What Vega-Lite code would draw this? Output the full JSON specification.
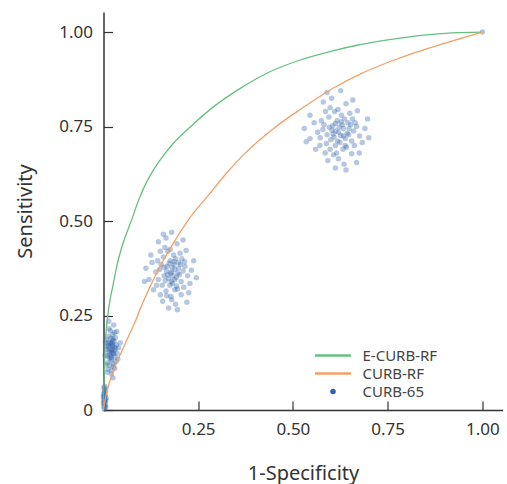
{
  "$schema": "https://vega.github.io/schema/vega-lite/v6.json",
  "width": 399,
  "height": 398,
  "autosize": "none",
  "padding": {"left": 103.5, "top": 12, "right": 4.5, "bottom": 74},
  "background": "white",
  "config": {
    "view": {"stroke": null},
    "font": "Noto Sans",
    "axis": {
      "grid": false,
      "domainColor": "#333333",
      "domainWidth": 1.5,
      "tickColor": "#333333",
      "tickWidth": 1.2,
      "tickSize": -9,
      "labelPadding": 20,
      "labelFontSize": 17,
      "labelColor": "#333333",
      "titleFontSize": 20,
      "titleFontWeight": "normal",
      "titleColor": "#333333"
    }
  },
  "datasets": {
    "curves": [
      {"model": "E-CURB-RF", "fpr": 0, "tpr": 0},
      {"model": "E-CURB-RF", "fpr": 0.001, "tpr": 0.06},
      {"model": "E-CURB-RF", "fpr": 0.003, "tpr": 0.13},
      {"model": "E-CURB-RF", "fpr": 0.005, "tpr": 0.18},
      {"model": "E-CURB-RF", "fpr": 0.008, "tpr": 0.22},
      {"model": "E-CURB-RF", "fpr": 0.012, "tpr": 0.255},
      {"model": "E-CURB-RF", "fpr": 0.017, "tpr": 0.29},
      {"model": "E-CURB-RF", "fpr": 0.025, "tpr": 0.33},
      {"model": "E-CURB-RF", "fpr": 0.035, "tpr": 0.38},
      {"model": "E-CURB-RF", "fpr": 0.048, "tpr": 0.43},
      {"model": "E-CURB-RF", "fpr": 0.06, "tpr": 0.465},
      {"model": "E-CURB-RF", "fpr": 0.075, "tpr": 0.505},
      {"model": "E-CURB-RF", "fpr": 0.09, "tpr": 0.548},
      {"model": "E-CURB-RF", "fpr": 0.105, "tpr": 0.585},
      {"model": "E-CURB-RF", "fpr": 0.13, "tpr": 0.632},
      {"model": "E-CURB-RF", "fpr": 0.158, "tpr": 0.673},
      {"model": "E-CURB-RF", "fpr": 0.184, "tpr": 0.705},
      {"model": "E-CURB-RF", "fpr": 0.229, "tpr": 0.749},
      {"model": "E-CURB-RF", "fpr": 0.29, "tpr": 0.802},
      {"model": "E-CURB-RF", "fpr": 0.361, "tpr": 0.851},
      {"model": "E-CURB-RF", "fpr": 0.431, "tpr": 0.891},
      {"model": "E-CURB-RF", "fpr": 0.519, "tpr": 0.926},
      {"model": "E-CURB-RF", "fpr": 0.6, "tpr": 0.949},
      {"model": "E-CURB-RF", "fpr": 0.669, "tpr": 0.965},
      {"model": "E-CURB-RF", "fpr": 0.75, "tpr": 0.979},
      {"model": "E-CURB-RF", "fpr": 0.845, "tpr": 0.992},
      {"model": "E-CURB-RF", "fpr": 0.92, "tpr": 0.998},
      {"model": "E-CURB-RF", "fpr": 1, "tpr": 1},
      {"model": "CURB-RF", "fpr": 0, "tpr": 0},
      {"model": "CURB-RF", "fpr": 0.004, "tpr": 0.026},
      {"model": "CURB-RF", "fpr": 0.015, "tpr": 0.07},
      {"model": "CURB-RF", "fpr": 0.03, "tpr": 0.115},
      {"model": "CURB-RF", "fpr": 0.048, "tpr": 0.155},
      {"model": "CURB-RF", "fpr": 0.066, "tpr": 0.195},
      {"model": "CURB-RF", "fpr": 0.083, "tpr": 0.232},
      {"model": "CURB-RF", "fpr": 0.096, "tpr": 0.265},
      {"model": "CURB-RF", "fpr": 0.12, "tpr": 0.32},
      {"model": "CURB-RF", "fpr": 0.149, "tpr": 0.379},
      {"model": "CURB-RF", "fpr": 0.184, "tpr": 0.441},
      {"model": "CURB-RF", "fpr": 0.224, "tpr": 0.503},
      {"model": "CURB-RF", "fpr": 0.281, "tpr": 0.573},
      {"model": "CURB-RF", "fpr": 0.325, "tpr": 0.627},
      {"model": "CURB-RF", "fpr": 0.369, "tpr": 0.675},
      {"model": "CURB-RF", "fpr": 0.449, "tpr": 0.745},
      {"model": "CURB-RF", "fpr": 0.519, "tpr": 0.795},
      {"model": "CURB-RF", "fpr": 0.607, "tpr": 0.852},
      {"model": "CURB-RF", "fpr": 0.68, "tpr": 0.89},
      {"model": "CURB-RF", "fpr": 0.757, "tpr": 0.922},
      {"model": "CURB-RF", "fpr": 0.82, "tpr": 0.945},
      {"model": "CURB-RF", "fpr": 0.889, "tpr": 0.967},
      {"model": "CURB-RF", "fpr": 0.95, "tpr": 0.985},
      {"model": "CURB-RF", "fpr": 1, "tpr": 1}
    ],
    "points": [
      {"model": "CURB-65", "fpr": 1, "tpr": 1},
      {"model": "CURB-65", "fpr": 0.620, "tpr": 0.735},
      {"model": "CURB-65", "fpr": 0.605, "tpr": 0.752},
      {"model": "CURB-65", "fpr": 0.638, "tpr": 0.718},
      {"model": "CURB-65", "fpr": 0.612, "tpr": 0.700},
      {"model": "CURB-65", "fpr": 0.645, "tpr": 0.760},
      {"model": "CURB-65", "fpr": 0.590, "tpr": 0.728},
      {"model": "CURB-65", "fpr": 0.628, "tpr": 0.780},
      {"model": "CURB-65", "fpr": 0.655, "tpr": 0.712},
      {"model": "CURB-65", "fpr": 0.598, "tpr": 0.690},
      {"model": "CURB-65", "fpr": 0.633, "tpr": 0.745},
      {"model": "CURB-65", "fpr": 0.617, "tpr": 0.765},
      {"model": "CURB-65", "fpr": 0.582, "tpr": 0.755},
      {"model": "CURB-65", "fpr": 0.660, "tpr": 0.738},
      {"model": "CURB-65", "fpr": 0.641, "tpr": 0.695},
      {"model": "CURB-65", "fpr": 0.608, "tpr": 0.722},
      {"model": "CURB-65", "fpr": 0.624, "tpr": 0.708},
      {"model": "CURB-65", "fpr": 0.595, "tpr": 0.775},
      {"model": "CURB-65", "fpr": 0.650, "tpr": 0.785},
      {"model": "CURB-65", "fpr": 0.572, "tpr": 0.720},
      {"model": "CURB-65", "fpr": 0.615, "tpr": 0.680},
      {"model": "CURB-65", "fpr": 0.668, "tpr": 0.750},
      {"model": "CURB-65", "fpr": 0.603, "tpr": 0.740},
      {"model": "CURB-65", "fpr": 0.636, "tpr": 0.770},
      {"model": "CURB-65", "fpr": 0.588, "tpr": 0.705},
      {"model": "CURB-65", "fpr": 0.626, "tpr": 0.726},
      {"model": "CURB-65", "fpr": 0.612, "tpr": 0.758},
      {"model": "CURB-65", "fpr": 0.647, "tpr": 0.728},
      {"model": "CURB-65", "fpr": 0.579, "tpr": 0.742},
      {"model": "CURB-65", "fpr": 0.632, "tpr": 0.690},
      {"model": "CURB-65", "fpr": 0.657, "tpr": 0.770},
      {"model": "CURB-65", "fpr": 0.598, "tpr": 0.800},
      {"model": "CURB-65", "fpr": 0.620, "tpr": 0.665},
      {"model": "CURB-65", "fpr": 0.676, "tpr": 0.725},
      {"model": "CURB-65", "fpr": 0.565, "tpr": 0.735},
      {"model": "CURB-65", "fpr": 0.640, "tpr": 0.810},
      {"model": "CURB-65", "fpr": 0.585, "tpr": 0.680},
      {"model": "CURB-65", "fpr": 0.610, "tpr": 0.790},
      {"model": "CURB-65", "fpr": 0.662, "tpr": 0.700},
      {"model": "CURB-65", "fpr": 0.630, "tpr": 0.755},
      {"model": "CURB-65", "fpr": 0.600, "tpr": 0.715},
      {"model": "CURB-65", "fpr": 0.648, "tpr": 0.745},
      {"model": "CURB-65", "fpr": 0.575, "tpr": 0.765},
      {"model": "CURB-65", "fpr": 0.622, "tpr": 0.748},
      {"model": "CURB-65", "fpr": 0.690, "tpr": 0.745},
      {"model": "CURB-65", "fpr": 0.556, "tpr": 0.760},
      {"model": "CURB-65", "fpr": 0.635, "tpr": 0.650},
      {"model": "CURB-65", "fpr": 0.602, "tpr": 0.825},
      {"model": "CURB-65", "fpr": 0.670, "tpr": 0.792},
      {"model": "CURB-65", "fpr": 0.592, "tpr": 0.660},
      {"model": "CURB-65", "fpr": 0.655, "tpr": 0.678},
      {"model": "CURB-65", "fpr": 0.545, "tpr": 0.718},
      {"model": "CURB-65", "fpr": 0.683, "tpr": 0.708},
      {"model": "CURB-65", "fpr": 0.613, "tpr": 0.738},
      {"model": "CURB-65", "fpr": 0.627, "tpr": 0.762},
      {"model": "CURB-65", "fpr": 0.606, "tpr": 0.730},
      {"model": "CURB-65", "fpr": 0.643, "tpr": 0.732},
      {"model": "CURB-65", "fpr": 0.618, "tpr": 0.712},
      {"model": "CURB-65", "fpr": 0.596, "tpr": 0.748},
      {"model": "CURB-65", "fpr": 0.652, "tpr": 0.755},
      {"model": "CURB-65", "fpr": 0.633, "tpr": 0.725},
      {"model": "CURB-65", "fpr": 0.586, "tpr": 0.790},
      {"model": "CURB-65", "fpr": 0.664, "tpr": 0.760},
      {"model": "CURB-65", "fpr": 0.619, "tpr": 0.795},
      {"model": "CURB-65", "fpr": 0.607, "tpr": 0.675},
      {"model": "CURB-65", "fpr": 0.638, "tpr": 0.700},
      {"model": "CURB-65", "fpr": 0.571, "tpr": 0.700},
      {"model": "CURB-65", "fpr": 0.697, "tpr": 0.770},
      {"model": "CURB-65", "fpr": 0.530, "tpr": 0.745},
      {"model": "CURB-65", "fpr": 0.626, "tpr": 0.845},
      {"model": "CURB-65", "fpr": 0.580, "tpr": 0.815},
      {"model": "CURB-65", "fpr": 0.658, "tpr": 0.820},
      {"model": "CURB-65", "fpr": 0.612, "tpr": 0.640},
      {"model": "CURB-65", "fpr": 0.675, "tpr": 0.680},
      {"model": "CURB-65", "fpr": 0.560, "tpr": 0.690},
      {"model": "CURB-65", "fpr": 0.700, "tpr": 0.720},
      {"model": "CURB-65", "fpr": 0.545, "tpr": 0.780},
      {"model": "CURB-65", "fpr": 0.640, "tpr": 0.635},
      {"model": "CURB-65", "fpr": 0.590, "tpr": 0.840},
      {"model": "CURB-65", "fpr": 0.668, "tpr": 0.655},
      {"model": "CURB-65", "fpr": 0.535, "tpr": 0.710},
      {"model": "CURB-65", "fpr": 0.180, "tpr": 0.365},
      {"model": "CURB-65", "fpr": 0.168, "tpr": 0.380},
      {"model": "CURB-65", "fpr": 0.192, "tpr": 0.350},
      {"model": "CURB-65", "fpr": 0.175, "tpr": 0.330},
      {"model": "CURB-65", "fpr": 0.198, "tpr": 0.390},
      {"model": "CURB-65", "fpr": 0.160, "tpr": 0.355},
      {"model": "CURB-65", "fpr": 0.185, "tpr": 0.410},
      {"model": "CURB-65", "fpr": 0.205, "tpr": 0.340},
      {"model": "CURB-65", "fpr": 0.165, "tpr": 0.315},
      {"model": "CURB-65", "fpr": 0.188, "tpr": 0.372},
      {"model": "CURB-65", "fpr": 0.176, "tpr": 0.395},
      {"model": "CURB-65", "fpr": 0.152, "tpr": 0.385},
      {"model": "CURB-65", "fpr": 0.210, "tpr": 0.368},
      {"model": "CURB-65", "fpr": 0.195, "tpr": 0.320},
      {"model": "CURB-65", "fpr": 0.172, "tpr": 0.348},
      {"model": "CURB-65", "fpr": 0.182, "tpr": 0.335},
      {"model": "CURB-65", "fpr": 0.158, "tpr": 0.405},
      {"model": "CURB-65", "fpr": 0.202, "tpr": 0.415},
      {"model": "CURB-65", "fpr": 0.145, "tpr": 0.345},
      {"model": "CURB-65", "fpr": 0.178, "tpr": 0.300},
      {"model": "CURB-65", "fpr": 0.215, "tpr": 0.380},
      {"model": "CURB-65", "fpr": 0.166, "tpr": 0.368},
      {"model": "CURB-65", "fpr": 0.190, "tpr": 0.400},
      {"model": "CURB-65", "fpr": 0.155, "tpr": 0.330},
      {"model": "CURB-65", "fpr": 0.183, "tpr": 0.355},
      {"model": "CURB-65", "fpr": 0.173, "tpr": 0.388},
      {"model": "CURB-65", "fpr": 0.200, "tpr": 0.358},
      {"model": "CURB-65", "fpr": 0.148, "tpr": 0.372},
      {"model": "CURB-65", "fpr": 0.188, "tpr": 0.318},
      {"model": "CURB-65", "fpr": 0.207, "tpr": 0.400},
      {"model": "CURB-65", "fpr": 0.162, "tpr": 0.430},
      {"model": "CURB-65", "fpr": 0.180, "tpr": 0.292},
      {"model": "CURB-65", "fpr": 0.222, "tpr": 0.355},
      {"model": "CURB-65", "fpr": 0.138, "tpr": 0.365},
      {"model": "CURB-65", "fpr": 0.194, "tpr": 0.440},
      {"model": "CURB-65", "fpr": 0.150, "tpr": 0.305},
      {"model": "CURB-65", "fpr": 0.170, "tpr": 0.420},
      {"model": "CURB-65", "fpr": 0.212, "tpr": 0.325},
      {"model": "CURB-65", "fpr": 0.186, "tpr": 0.385},
      {"model": "CURB-65", "fpr": 0.163, "tpr": 0.342},
      {"model": "CURB-65", "fpr": 0.198, "tpr": 0.375},
      {"model": "CURB-65", "fpr": 0.143, "tpr": 0.395},
      {"model": "CURB-65", "fpr": 0.181, "tpr": 0.378},
      {"model": "CURB-65", "fpr": 0.232, "tpr": 0.370},
      {"model": "CURB-65", "fpr": 0.128, "tpr": 0.390},
      {"model": "CURB-65", "fpr": 0.190, "tpr": 0.280},
      {"model": "CURB-65", "fpr": 0.165, "tpr": 0.455},
      {"model": "CURB-65", "fpr": 0.218, "tpr": 0.422},
      {"model": "CURB-65", "fpr": 0.156, "tpr": 0.288},
      {"model": "CURB-65", "fpr": 0.205, "tpr": 0.305},
      {"model": "CURB-65", "fpr": 0.120, "tpr": 0.345},
      {"model": "CURB-65", "fpr": 0.228, "tpr": 0.335},
      {"model": "CURB-65", "fpr": 0.177, "tpr": 0.362},
      {"model": "CURB-65", "fpr": 0.186, "tpr": 0.392},
      {"model": "CURB-65", "fpr": 0.169, "tpr": 0.358},
      {"model": "CURB-65", "fpr": 0.196, "tpr": 0.362},
      {"model": "CURB-65", "fpr": 0.179, "tpr": 0.340},
      {"model": "CURB-65", "fpr": 0.160, "tpr": 0.378},
      {"model": "CURB-65", "fpr": 0.203, "tpr": 0.385},
      {"model": "CURB-65", "fpr": 0.188, "tpr": 0.345},
      {"model": "CURB-65", "fpr": 0.150, "tpr": 0.420},
      {"model": "CURB-65", "fpr": 0.214, "tpr": 0.392},
      {"model": "CURB-65", "fpr": 0.176, "tpr": 0.425},
      {"model": "CURB-65", "fpr": 0.167, "tpr": 0.302},
      {"model": "CURB-65", "fpr": 0.193, "tpr": 0.328},
      {"model": "CURB-65", "fpr": 0.140, "tpr": 0.330},
      {"model": "CURB-65", "fpr": 0.238, "tpr": 0.395},
      {"model": "CURB-65", "fpr": 0.112, "tpr": 0.375},
      {"model": "CURB-65", "fpr": 0.180, "tpr": 0.470},
      {"model": "CURB-65", "fpr": 0.145, "tpr": 0.445},
      {"model": "CURB-65", "fpr": 0.210, "tpr": 0.450},
      {"model": "CURB-65", "fpr": 0.172, "tpr": 0.270},
      {"model": "CURB-65", "fpr": 0.225, "tpr": 0.310},
      {"model": "CURB-65", "fpr": 0.132, "tpr": 0.318},
      {"model": "CURB-65", "fpr": 0.245, "tpr": 0.350},
      {"model": "CURB-65", "fpr": 0.125, "tpr": 0.410},
      {"model": "CURB-65", "fpr": 0.195, "tpr": 0.265},
      {"model": "CURB-65", "fpr": 0.158, "tpr": 0.465},
      {"model": "CURB-65", "fpr": 0.220, "tpr": 0.285},
      {"model": "CURB-65", "fpr": 0.108, "tpr": 0.340},
      {"model": "CURB-65", "fpr": 0.022, "tpr": 0.160},
      {"model": "CURB-65", "fpr": 0.018, "tpr": 0.175},
      {"model": "CURB-65", "fpr": 0.026, "tpr": 0.148},
      {"model": "CURB-65", "fpr": 0.020, "tpr": 0.130},
      {"model": "CURB-65", "fpr": 0.028, "tpr": 0.182},
      {"model": "CURB-65", "fpr": 0.014, "tpr": 0.155},
      {"model": "CURB-65", "fpr": 0.024, "tpr": 0.200},
      {"model": "CURB-65", "fpr": 0.030, "tpr": 0.140},
      {"model": "CURB-65", "fpr": 0.016, "tpr": 0.118},
      {"model": "CURB-65", "fpr": 0.023, "tpr": 0.168},
      {"model": "CURB-65", "fpr": 0.019, "tpr": 0.190},
      {"model": "CURB-65", "fpr": 0.012, "tpr": 0.178},
      {"model": "CURB-65", "fpr": 0.032, "tpr": 0.162},
      {"model": "CURB-65", "fpr": 0.027, "tpr": 0.122},
      {"model": "CURB-65", "fpr": 0.017, "tpr": 0.145},
      {"model": "CURB-65", "fpr": 0.021, "tpr": 0.135},
      {"model": "CURB-65", "fpr": 0.013, "tpr": 0.195},
      {"model": "CURB-65", "fpr": 0.029, "tpr": 0.205},
      {"model": "CURB-65", "fpr": 0.010, "tpr": 0.142},
      {"model": "CURB-65", "fpr": 0.022, "tpr": 0.105},
      {"model": "CURB-65", "fpr": 0.034, "tpr": 0.172},
      {"model": "CURB-65", "fpr": 0.015, "tpr": 0.165},
      {"model": "CURB-65", "fpr": 0.025, "tpr": 0.188},
      {"model": "CURB-65", "fpr": 0.011, "tpr": 0.125},
      {"model": "CURB-65", "fpr": 0.023, "tpr": 0.152},
      {"model": "CURB-65", "fpr": 0.019, "tpr": 0.178},
      {"model": "CURB-65", "fpr": 0.028, "tpr": 0.158},
      {"model": "CURB-65", "fpr": 0.009, "tpr": 0.168},
      {"model": "CURB-65", "fpr": 0.026, "tpr": 0.115},
      {"model": "CURB-65", "fpr": 0.031, "tpr": 0.192},
      {"model": "CURB-65", "fpr": 0.015, "tpr": 0.215},
      {"model": "CURB-65", "fpr": 0.021, "tpr": 0.095},
      {"model": "CURB-65", "fpr": 0.036, "tpr": 0.150},
      {"model": "CURB-65", "fpr": 0.007, "tpr": 0.160},
      {"model": "CURB-65", "fpr": 0.027, "tpr": 0.225},
      {"model": "CURB-65", "fpr": 0.012, "tpr": 0.108},
      {"model": "CURB-65", "fpr": 0.018, "tpr": 0.210},
      {"model": "CURB-65", "fpr": 0.033, "tpr": 0.128},
      {"model": "CURB-65", "fpr": 0.024, "tpr": 0.172},
      {"model": "CURB-65", "fpr": 0.016, "tpr": 0.138},
      {"model": "CURB-65", "fpr": 0.029, "tpr": 0.166},
      {"model": "CURB-65", "fpr": 0.008, "tpr": 0.185},
      {"model": "CURB-65", "fpr": 0.022, "tpr": 0.176},
      {"model": "CURB-65", "fpr": 0.040, "tpr": 0.165},
      {"model": "CURB-65", "fpr": 0.005, "tpr": 0.180},
      {"model": "CURB-65", "fpr": 0.025, "tpr": 0.085},
      {"model": "CURB-65", "fpr": 0.014, "tpr": 0.235},
      {"model": "CURB-65", "fpr": 0.035, "tpr": 0.208},
      {"model": "CURB-65", "fpr": 0.010, "tpr": 0.100},
      {"model": "CURB-65", "fpr": 0.030, "tpr": 0.110},
      {"model": "CURB-65", "fpr": 0.004, "tpr": 0.145},
      {"model": "CURB-65", "fpr": 0.038, "tpr": 0.135},
      {"model": "CURB-65", "fpr": 0.020, "tpr": 0.158},
      {"model": "CURB-65", "fpr": 0.024, "tpr": 0.183},
      {"model": "CURB-65", "fpr": 0.017, "tpr": 0.152},
      {"model": "CURB-65", "fpr": 0.027, "tpr": 0.150},
      {"model": "CURB-65", "fpr": 0.020, "tpr": 0.140},
      {"model": "CURB-65", "fpr": 0.013, "tpr": 0.170},
      {"model": "CURB-65", "fpr": 0.044, "tpr": 0.178},
      {"model": "CURB-65", "fpr": 0.006, "tpr": 0.120},
      {"model": "CURB-65", "fpr": 0.002, "tpr": 0.020},
      {"model": "CURB-65", "fpr": 0.003, "tpr": 0.035},
      {"model": "CURB-65", "fpr": 0.001, "tpr": 0.010},
      {"model": "CURB-65", "fpr": 0.004, "tpr": 0.028},
      {"model": "CURB-65", "fpr": 0.002, "tpr": 0.045},
      {"model": "CURB-65", "fpr": 0.005, "tpr": 0.015},
      {"model": "CURB-65", "fpr": 0.001, "tpr": 0.030},
      {"model": "CURB-65", "fpr": 0.003, "tpr": 0.055},
      {"model": "CURB-65", "fpr": 0.004, "tpr": 0.005},
      {"model": "CURB-65", "fpr": 0.002, "tpr": 0.038},
      {"model": "CURB-65", "fpr": 0.006, "tpr": 0.025},
      {"model": "CURB-65", "fpr": 0.000, "tpr": 0.018},
      {"model": "CURB-65", "fpr": 0.003, "tpr": 0.048},
      {"model": "CURB-65", "fpr": 0.001, "tpr": 0.060},
      {"model": "CURB-65", "fpr": 0.005, "tpr": 0.040},
      {"model": "CURB-65", "fpr": 0.002, "tpr": 0.002},
      {"model": "CURB-65", "fpr": 0.004, "tpr": 0.062},
      {"model": "CURB-65", "fpr": 0.003, "tpr": 0.012},
      {"model": "CURB-65", "fpr": 0.007, "tpr": 0.032},
      {"model": "CURB-65", "fpr": 0.001, "tpr": 0.042},
      {"model": "CURB-65", "fpr": 0.002, "tpr": 0.026},
      {"model": "CURB-65", "fpr": 0.004, "tpr": 0.050},
      {"model": "CURB-65", "fpr": 0.000, "tpr": 0.035},
      {"model": "CURB-65", "fpr": 0.003, "tpr": 0.022},
      {"model": "CURB-65", "fpr": 0.006, "tpr": 0.008}
    ]
  },
  "encoding": {
    "x": {
      "field": "fpr",
      "type": "quantitative",
      "scale": {"domain": [0, 1.053], "nice": false, "zero": false},
      "axis": {"values": [0.25, 0.5, 0.75, 1], "format": ".2f", "title": "1-Specificity", "titlePadding": 26}
    },
    "y": {
      "field": "tpr",
      "type": "quantitative",
      "scale": {"domain": [0, 1.053], "nice": false, "zero": false},
      "axis": {
        "values": [0, 0.25, 0.5, 0.75, 1],
        "labelExpr": "datum.value === 0 ? '0' : format(datum.value, '.2f')",
        "title": "Sensitivity",
        "titlePadding": 23
      }
    },
    "color": {
      "field": "model",
      "type": "nominal",
      "scale": {
        "domain": ["E-CURB-RF", "CURB-RF", "CURB-65"],
        "range": ["#66c080", "#f3a064", "#2f62aa"]
      },
      "legend": {
        "title": null,
        "orient": "none",
        "legendX": 209,
        "legendY": 336,
        "symbolSize": 100,
        "symbolType": "M-1,0H6.2",
        "labelFontSize": 15,
        "labelColor": "#444444",
        "labelOffset": 35,
        "rowPadding": 2,
        "encode": {
          "symbols": {
            "update": {
              "shape": {"signal": "datum.value === 'CURB-65' ? 'M2.3,0A0.3,0.3,0,1,0,2.9,0A0.3,0.3,0,1,0,2.3,0Z' : 'M-1,0H6.2'"},
              "size": {"value": 100},
              "stroke": {"signal": "datum.value === 'E-CURB-RF' ? '#3db45e' : datum.value === 'CURB-RF' ? '#f07c3c' : 'transparent'"},
              "fill": {"signal": "datum.value === 'CURB-65' ? '#3d85c6' : 'transparent'"},
              "strokeWidth": {"value": 2.5},
              "opacity": {"value": 1}
            }
          }
        }
      }
    }
  },
  "layer": [
    {
      "data": {"name": "points"},
      "mark": {"type": "point", "filled": true, "size": 30, "opacity": 0.35}
    },
    {
      "data": {"name": "curves"},
      "mark": {"type": "line", "strokeWidth": 1.3, "interpolate": "monotone"}
    }
  ]
}
